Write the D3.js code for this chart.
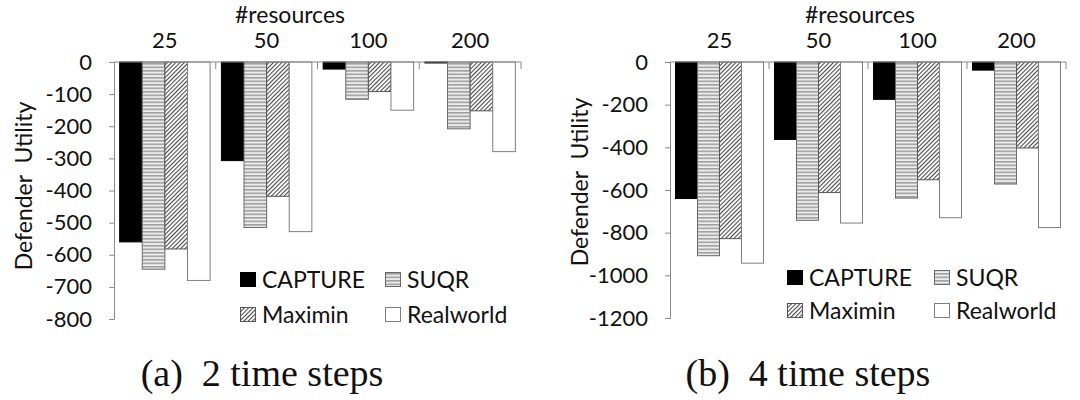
<!DOCTYPE html>
<html>
<head>
<meta charset="utf-8">
<script src="https://cdn.jsdelivr.net/npm/d3@7"></script>
<style>
  body { margin: 0; background: #fff; }
  svg { display: block; }
</style>
</head>
<body>
<div id="chart"></div>
<script>
// data ---------------------------------------------------------------
const categories  = ["25", "50", "100", "200"];
const seriesNames = ["CAPTURE", "SUQR", "Maximin", "Realworld"];

// (a) 2 time steps
const capture2   = [-560, -307, -22, -3];
const suqr2      = [-645, -515, -116, -208];
const maximin2   = [-582, -418, -92, -152];
const realworld2 = [-680, -528, -150, -279];
const yTicks2    = [0, -100, -200, -300, -400, -500, -600, -700, -800];

// (b) 4 time steps
const capture4   = [-640, -363, -175, -38];
const suqr4      = [-908, -742, -638, -572];
const maximin4   = [-828, -612, -552, -403];
const realworld4 = [-943, -755, -730, -776];
const yTicks4    = [0, -200, -400, -600, -800, -1000, -1200];

const captions = ["(a)\u20022 time steps", "(b)\u20024 time steps"];

// look ---------------------------------------------------------------
const W = 1080, H = 400;
const SANS  = "Lato, 'Open Sans', sans-serif";
const SERIF = "'Liberation Serif', 'DejaVu Serif', serif";
const AXIS  = "#8a8a8a";
const INK   = "#111";
const FILLS   = ["#000", "url(#hstripe)", "url(#diag)", "#fff"];
const STROKES = ["#000", "#6a6a6a", "#555", "#7f7f7f"];

const svg = d3.select("#chart").append("svg")
  .attr("width", W).attr("height", H)
  .attr("viewBox", `0 0 ${W} ${H}`);

svg.append("rect").attr("width", W).attr("height", H).attr("fill", "#fff");

// patterns
const defs = svg.append("defs");
const hs = defs.append("pattern")
  .attr("id", "hstripe").attr("patternUnits", "userSpaceOnUse")
  .attr("width", 8).attr("height", 3.5);
hs.append("rect").attr("width", 8).attr("height", 3.5).attr("fill", "#ececec");
hs.append("rect").attr("width", 8).attr("height", 1.6).attr("fill", "#a0a0a0");

const dg = defs.append("pattern")
  .attr("id", "diag").attr("patternUnits", "userSpaceOnUse")
  .attr("width", 3).attr("height", 3)
  .attr("patternTransform", "rotate(45)");
dg.append("rect").attr("width", 3).attr("height", 3).attr("fill", "#fff");
dg.append("rect").attr("width", 1.1).attr("height", 3).attr("fill", "#4a4a4a");

// panels -------------------------------------------------------------
drawPanel({
  xRange: [114, 521], yRange: [319, 62], yMin: -800, ticks: yTicks2,
  values: [capture2, suqr2, maximin2, realworld2],
  caption: captions[0], capX: 262,
  titleX: 32, titleY: 186, resX: 290,
  legend: { x: 240, y: 272, col: 145, row: 35 }
});

drawPanel({
  xRange: [670, 1066], yRange: [318, 62], yMin: -1200, ticks: yTicks4,
  values: [capture4, suqr4, maximin4, realworld4],
  caption: captions[1], capX: 808,
  titleX: 588, titleY: 182, resX: 860,
  legend: { x: 787, y: 270, col: 147, row: 33 }
});

function drawPanel(p) {
  const g = svg.append("g");

  const x0 = d3.scaleBand().domain(categories).range(p.xRange).padding(0);
  const x1 = d3.scaleBand().domain(seriesNames)
    .range([0, x0.bandwidth()]).paddingInner(0).paddingOuter(0.25);
  const y = d3.scaleLinear().domain([p.yMin, 0]).range(p.yRange);

  // bars
  seriesNames.forEach((s, si) => {
    g.append("g").selectAll("rect")
      .data(p.values[si].map((v, i) => ({ cat: categories[i], v })))
      .enter().append("rect")
      .attr("x", d => x0(d.cat) + x1(s))
      .attr("y", y(0))
      .attr("width", x1.bandwidth())
      .attr("height", d => y(d.v) - y(0))
      .attr("fill", FILLS[si])
      .attr("stroke", STROKES[si])
      .attr("stroke-width", 1);
  });

  // y axis (left, value)
  const ya = g.append("g")
    .attr("transform", `translate(${p.xRange[0]},0)`)
    .call(d3.axisLeft(y).tickValues(p.ticks).tickSize(5).tickPadding(17)
      .tickFormat(d => String(d)));
  ya.select(".domain").attr("stroke", AXIS);
  ya.selectAll(".tick line").attr("stroke", AXIS);
  ya.selectAll("text")
    .attr("font-family", SANS).attr("font-size", 22).attr("fill", INK);

  // top category axis: line + boundary ticks
  g.append("line")
    .attr("x1", p.xRange[0]).attr("x2", p.xRange[1])
    .attr("y1", y(0)).attr("y2", y(0))
    .attr("stroke", AXIS);
  const bounds = categories.map(c => x0(c)).concat([p.xRange[1]]);
  g.selectAll(".bt").data(bounds.slice(1)).enter().append("line")
    .attr("x1", d => d).attr("x2", d => d)
    .attr("y1", y(0)).attr("y2", y(0) + 7)
    .attr("stroke", AXIS);

  g.selectAll(".cat").data(categories).enter().append("text")
    .attr("x", d => x0(d) + x0.bandwidth() / 2)
    .attr("y", 48)
    .attr("text-anchor", "middle")
    .attr("font-family", SANS).attr("font-size", 22).attr("fill", INK)
    .text(d => d);

  g.append("text")
    .attr("x", p.resX).attr("y", 23)
    .attr("text-anchor", "middle")
    .attr("font-family", SANS).attr("font-size", 23).attr("fill", INK)
    .text("#resources");

  // y title
  g.append("text")
    .attr("transform", `translate(${p.titleX},${p.titleY}) rotate(-90)`)
    .attr("text-anchor", "middle")
    .attr("font-family", SANS).attr("font-size", 23).attr("fill", INK)
    .style("white-space", "pre")
    .text("Defender  Utility");

  // legend 2x2
  const lg = g.append("g");
  seriesNames.forEach((s, si) => {
    const cx = p.legend.x + (si % 2) * p.legend.col;
    const cy = p.legend.y + Math.floor(si / 2) * p.legend.row;
    lg.append("rect")
      .attr("x", cx + 0.5).attr("y", cy + 0.5)
      .attr("width", 15).attr("height", 14)
      .attr("fill", FILLS[si]).attr("stroke", STROKES[si]);
    lg.append("text")
      .attr("x", cx + 22).attr("y", cy + 16)
      .attr("font-family", SANS).attr("font-size", 23).attr("fill", INK)
      .text(s);
  });

  // caption
  g.append("text")
    .attr("x", p.capX).attr("y", 386)
    .attr("text-anchor", "middle")
    .attr("font-family", SERIF).attr("font-size", 38).attr("fill", INK)
    .text(p.caption);
}
</script>
</body>
</html>
